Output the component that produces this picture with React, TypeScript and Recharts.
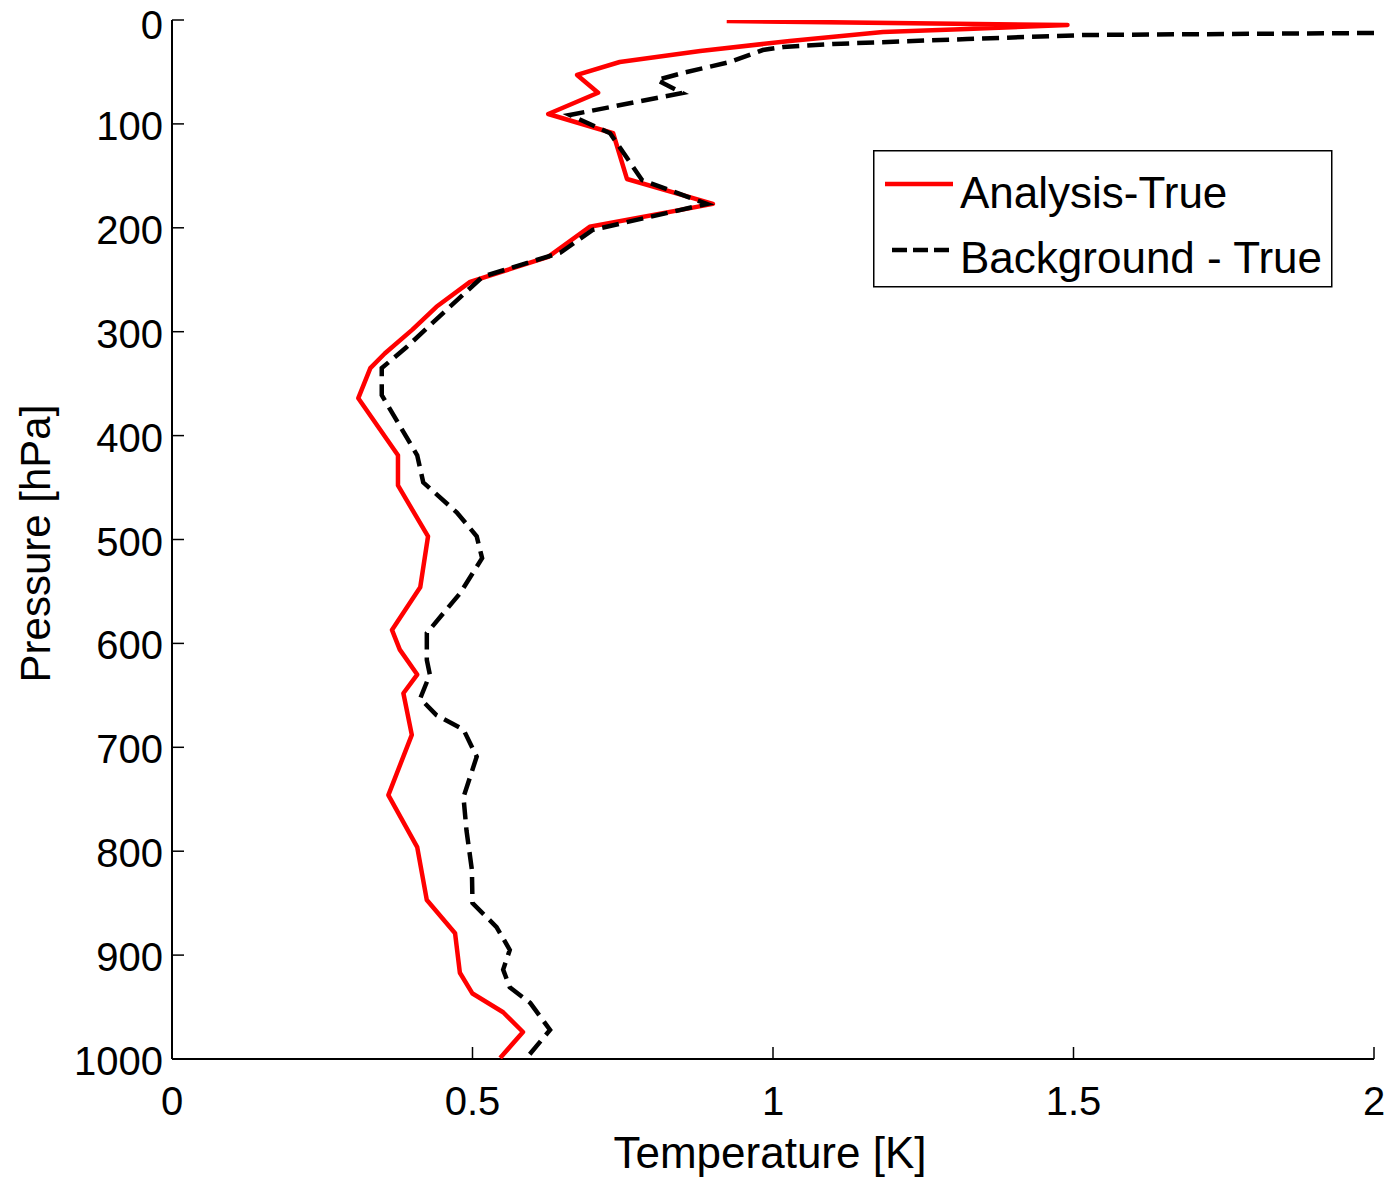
import React from 'react';
import { ScatterChart, Scatter, XAxis, YAxis, Legend } from 'recharts';

// Analysis - True (red solid)
const analysisPressure = [1, 4.8, 8.7, 11.5, 20.2, 29.8, 40.4, 52.9, 70, 90.5, 109, 153, 177, 199, 228, 252, 276, 298, 321, 335, 364, 419, 448, 497, 546, 587, 606, 630, 648, 688, 746, 796, 847, 879, 917, 937, 955, 974, 999];
const analysisTemp = [0.923, 1.49, 1.323, 1.183, 1.028, 0.879, 0.745, 0.674, 0.709, 0.626, 0.734, 0.757, 0.9, 0.695, 0.626, 0.496, 0.44, 0.4, 0.354, 0.33, 0.31, 0.376, 0.376, 0.426, 0.413, 0.366, 0.379, 0.408, 0.385, 0.399, 0.36, 0.408, 0.424, 0.471, 0.479, 0.5, 0.551, 0.584, 0.546];

// Background - True (black dashed)
const backgroundPressure = [12.5, 14.4, 18.3, 23.1, 26, 28.9, 40.4, 51, 57.7, 70.3, 91.4, 109, 154, 177, 202, 224, 247, 273, 315, 335, 361, 419, 445, 474, 497, 518, 552, 590, 616, 630, 653, 669, 683, 709, 748, 780, 818, 850, 873, 895, 914, 931, 946, 972, 999];
const backgroundTemp = [2.0, 1.522, 1.323, 1.1, 1.017, 0.983, 0.928, 0.85, 0.807, 0.849, 0.662, 0.729, 0.782, 0.89, 0.7, 0.646, 0.517, 0.468, 0.39, 0.349, 0.349, 0.408, 0.418, 0.474, 0.507, 0.516, 0.479, 0.424, 0.424, 0.429, 0.413, 0.44, 0.485, 0.507, 0.485, 0.49, 0.499, 0.5, 0.54, 0.562, 0.551, 0.562, 0.596, 0.629, 0.59];

const xTicks = [0, 0.5, 1, 1.5, 2];
const yTicks = [0, 100, 200, 300, 400, 500, 600, 700, 800, 900, 1000];
const seriesNames = ['Analysis-True', 'Background - True'];
const xLabel = 'Temperature [K]';
const yLabel = 'Pressure [hPa]';

const analysisData = analysisPressure.map((p, i) => ({ p, t: analysisTemp[i] }));
const backgroundData = backgroundPressure.map((p, i) => ({ p, t: backgroundTemp[i] }));

const FONT = '"Liberation Sans", Arial, Helvetica, sans-serif';
const TICK_FS = 40;
const TICK_LEN = 12;

const BottomTick = (props: any) => {
  const { x, y, payload } = props;
  return (
    <g>
      <line x1={x} x2={x} y1={y} y2={y - TICK_LEN} stroke="#000" strokeWidth={1.5} />
      <text x={x} y={y + 56} textAnchor="middle" fontSize={TICK_FS} fontFamily={FONT} fill="#000">
        {String(payload.value)}
      </text>
    </g>
  );
};

const TopTick = (props: any) => {
  const { x, y } = props;
  return <line x1={x} x2={x} y1={y} y2={y + TICK_LEN} stroke="#000" strokeWidth={1.5} />;
};

const LeftTick = (props: any) => {
  const { x, y, payload } = props;
  const dy = payload.value === 0 ? 19 : 16;
  return (
    <g>
      <line x1={x} x2={x + TICK_LEN} y1={y} y2={y} stroke="#000" strokeWidth={1.5} />
      <text x={x - 9} y={y + dy} textAnchor="end" fontSize={TICK_FS} fontFamily={FONT} fill="#000">
        {String(payload.value)}
      </text>
    </g>
  );
};

const RightTick = (props: any) => {
  const { x, y } = props;
  return <line x1={x} x2={x - TICK_LEN} y1={y} y2={y} stroke="#000" strokeWidth={1.5} />;
};

const XLabel = (props: any) => {
  const vb = props.viewBox || {};
  return (
    <text x={vb.x + vb.width / 2 - 3} y={vb.y + 109} textAnchor="middle" fontSize={44} fontFamily={FONT} fill="#000">
      {xLabel}
    </text>
  );
};

const YLabel = (props: any) => {
  const vb = props.viewBox || {};
  const cx = 42;
  const cy = vb.y + vb.height / 2 + 4;
  return (
    <text x={cx} y={cy} transform={`rotate(-90, ${cx}, ${cy})`} textAnchor="middle" fontSize={42} fontFamily={FONT} fill="#000">
      {yLabel}
    </text>
  );
};

const renderLegend = () => (
  <svg width={460} height={138} style={{ display: 'block' }}>
    <rect x={0.75} y={0.75} width={458} height={136} fill="#fff" stroke="#000" strokeWidth={1.5} />
    <line x1={12} x2={80} y1={34} y2={34} stroke="#ff0000" strokeWidth={4.5} />
    <text x={87} y={58} fontSize={44} fontFamily={FONT} fill="#000">{seriesNames[0]}</text>
    <line x1={19} x2={80} y1={100} y2={100} stroke="#000" strokeWidth={4.5} strokeDasharray="15 6" />
    <text x={87} y={123} fontSize={44} fontFamily={FONT} fill="#000">{seriesNames[1]}</text>
  </svg>
);

const noShape = () => <g />;

export default function App() {
  return (
    <div style={{ background: '#fff', marginTop: -8 }}>
      <ScatterChart width={1385} height={1180} margin={{ top: 20, right: 19, bottom: 0, left: 0 }}>
        <XAxis
          xAxisId="b"
          type="number"
          dataKey="t"
          domain={[0, 2]}
          ticks={xTicks}
          orientation="bottom"
          height={121}
          tickSize={0}
          tickMargin={0}
          tickLine={false}
          axisLine={{ stroke: '#000', strokeWidth: 2 }}
          tick={<BottomTick />}
          interval={0}
          allowDataOverflow
          label={<XLabel />}
        />
        <XAxis
          xAxisId="t"
          type="number"
          dataKey="t"
          domain={[0, 2]}
          ticks={xTicks}
          orientation="top"
          height={0}
          tickSize={0}
          tickMargin={0}
          tickLine={false}
          axisLine={{ stroke: '#000', strokeWidth: 2 }}
          tick={<TopTick />}
          interval={0}
          allowDataOverflow
        />
        <YAxis
          yAxisId="l"
          type="number"
          dataKey="p"
          domain={[0, 1000]}
          ticks={yTicks}
          reversed
          orientation="left"
          width={164}
          tickSize={0}
          tickMargin={0}
          tickLine={false}
          axisLine={{ stroke: '#000', strokeWidth: 2 }}
          tick={<LeftTick />}
          interval={0}
          allowDataOverflow
          label={<YLabel />}
        />
        <YAxis
          yAxisId="r"
          type="number"
          dataKey="p"
          domain={[0, 1000]}
          ticks={yTicks}
          reversed
          orientation="right"
          width={0}
          tickSize={0}
          tickMargin={0}
          tickLine={false}
          axisLine={{ stroke: '#000', strokeWidth: 2 }}
          tick={<RightTick />}
          interval={0}
          allowDataOverflow
        />
        <Legend
          layout="horizontal"
          verticalAlign="middle"
          align="center"
          content={renderLegend}
          wrapperStyle={{ position: 'absolute', left: 865, top: 150, width: 460, height: 138 }}
        />
        <Scatter
          name={seriesNames[0]}
          data={analysisData}
          xAxisId="b"
          yAxisId="l"
          fill="#ff0000"
          stroke="#ff0000"
          line={{ stroke: '#ff0000', strokeWidth: 4.5, strokeLinejoin: 'round' }}
          shape={noShape}
          isAnimationActive={false}
        />
        <Scatter
          name={seriesNames[1]}
          data={backgroundData}
          xAxisId="b"
          yAxisId="l"
          fill="#000"
          stroke="#000"
          line={{ stroke: '#000', strokeWidth: 4.5, strokeDasharray: '17 8' }}
          shape={noShape}
          isAnimationActive={false}
        />
      </ScatterChart>
    </div>
  );
}
